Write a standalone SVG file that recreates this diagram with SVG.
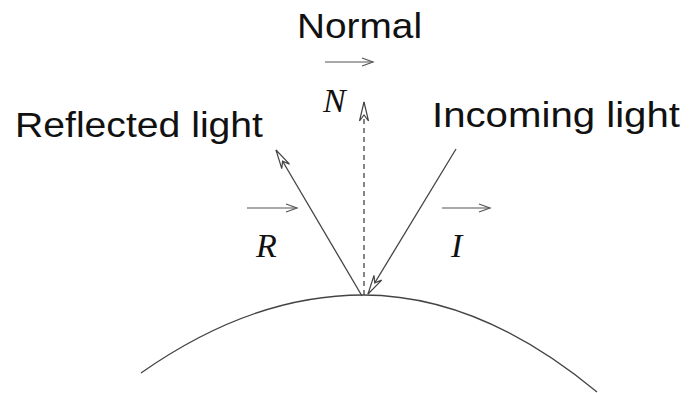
<svg xmlns="http://www.w3.org/2000/svg" width="690" height="393" viewBox="0 0 690 393">
<style>
.lbl{font-family:"Liberation Sans","Noto Sans",sans-serif;font-size:35px;fill:#111}
.var{font-family:"Liberation Serif",serif;font-style:italic;font-size:34px;fill:#111}
.ln{stroke:#444;stroke-width:1.3;fill:none}
.vec{stroke:#555;stroke-width:1.2;fill:none}
</style>
<defs>
<marker id="ah" markerUnits="userSpaceOnUse" viewBox="-20 -6 22 12" markerWidth="22" markerHeight="12" refX="0" refY="0" orient="auto">
<path d="M0,0 L-19,-4.5 L-13,0 L-19,4.5 Z" fill="#fff" stroke="#444" stroke-width="1.2"/>
</marker>
<marker id="vh" markerUnits="userSpaceOnUse" viewBox="-12 -6 14 12" markerWidth="14" markerHeight="12" refX="0" refY="0" orient="auto">
<path d="M-11,-4 L0,0 L-11,4" fill="none" stroke="#555" stroke-width="1.2"/>
</marker>
</defs>
<g id="surface"><path class="ln" d="M141,373 Q252,295 363,295 Q480,295 597,392"/></g>
<g id="connectors">
<line class="ln" x1="364" y1="295" x2="364" y2="102" stroke-dasharray="5,4" marker-end="url(#ah)"/>
<line class="ln" x1="362" y1="296" x2="276" y2="150" marker-end="url(#ah)"/>
<line class="ln" x1="456" y1="149" x2="368" y2="294" marker-end="url(#ah)"/>
</g>
<g id="normal">
<text class="lbl" x="297" y="38" textLength="125" lengthAdjust="spacingAndGlyphs">Normal</text>
<line class="vec" x1="325" y1="62" x2="373" y2="62" marker-end="url(#vh)"/>
<text class="var" x="323" y="112">N</text>
</g>
<g id="reflected">
<text class="lbl" x="15" y="137" textLength="248" lengthAdjust="spacingAndGlyphs">Reflected light</text>
<line class="vec" x1="247" y1="208" x2="297" y2="208" marker-end="url(#vh)"/>
<text class="var" x="256" y="257">R</text>
</g>
<g id="incoming">
<text class="lbl" x="432" y="127" textLength="248" lengthAdjust="spacingAndGlyphs">Incoming light</text>
<line class="vec" x1="442" y1="208" x2="490" y2="208" marker-end="url(#vh)"/>
<text class="var" x="451" y="257">I</text>
</g>
</svg>
